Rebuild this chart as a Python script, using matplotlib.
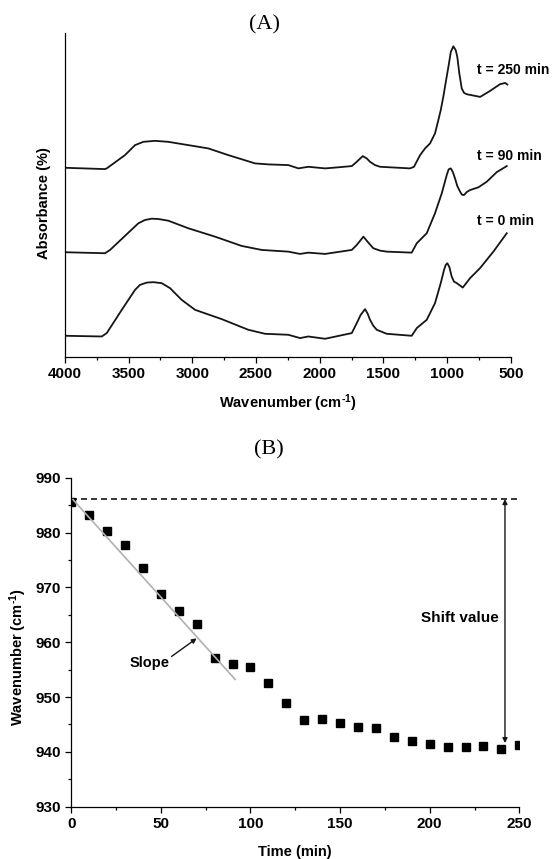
import matplotlib
matplotlib.use("Agg")
import matplotlib.pyplot as plt
from matplotlib.ticker import MultipleLocator

plt.rcParams['font.family'] = ['Liberation Sans', 'DejaVu Sans']
plt.rcParams['mathtext.fontset'] = 'custom'
plt.rcParams['mathtext.rm'] = 'Liberation Sans:bold'
plt.rcParams['mathtext.it'] = 'Liberation Sans:bold'
plt.rcParams['mathtext.bf'] = 'Liberation Sans:bold'

# ---------------- Panel A data (FTIR spectra, arbitrary absorbance units) ----------------
wn_250 = [4000, 3685, 3671, 3528, 3449, 3384, 3292, 3188, 2874, 2717, 2507, 2403, 2246, 2167,
          2089, 1958, 1879, 1748, 1709, 1662, 1631, 1605, 1566, 1526, 1291, 1260, 1212, 1173,
          1134, 1095, 1069, 1050, 1030, 1008, 990, 971, 951, 932, 920, 904, 885, 867, 846,
          767, 741, 663, 585, 545, 527]
abs_250 = [1.893, 1.880, 1.887, 2.020, 2.120, 2.153, 2.163, 2.153, 2.087, 2.020, 1.937, 1.927,
           1.920, 1.887, 1.903, 1.887, 1.895, 1.910, 1.953, 2.010, 1.987, 1.953, 1.920, 1.903,
           1.887, 1.903, 2.020, 2.087, 2.137, 2.237, 2.370, 2.470, 2.603, 2.770, 2.903, 3.053,
           3.110, 3.070, 3.003, 2.837, 2.687, 2.643, 2.630, 2.610, 2.603, 2.663, 2.730, 2.743,
           2.727]

wn_90 = [4000, 3685, 3645, 3423, 3371, 3318, 3266, 3188, 3031, 2821, 2612, 2455, 2246, 2154,
         2089, 1958, 1748, 1709, 1657, 1618, 1579, 1526, 1474, 1278, 1238, 1160, 1095, 1042,
         1003, 988, 971, 956, 938, 920, 898, 883, 867, 846, 820, 755, 689, 610, 532]
abs_90 = [1.047, 1.037, 1.070, 1.337, 1.370, 1.383, 1.380, 1.363, 1.287, 1.203, 1.110, 1.070,
          1.053, 1.030, 1.043, 1.030, 1.070, 1.120, 1.203, 1.143, 1.087, 1.063, 1.053, 1.043,
          1.137, 1.237, 1.437, 1.637, 1.820, 1.877, 1.887, 1.853, 1.787, 1.710, 1.653, 1.623,
          1.620, 1.650, 1.670, 1.697, 1.753, 1.850, 1.910]

wn_0 = [4000, 3710, 3671, 3553, 3449, 3410, 3357, 3305, 3240, 3174, 3148, 3083, 2978, 2769,
        2560, 2429, 2246, 2154, 2089, 1958, 1748, 1709, 1678, 1644, 1623, 1605, 1579, 1552,
        1474, 1278, 1238, 1160, 1095, 1050, 1024, 1011, 998, 982, 964, 946, 924, 877, 820,
        742, 637, 532]
abs_0 = [0.210, 0.203, 0.237, 0.470, 0.670, 0.720, 0.743, 0.747, 0.737, 0.687, 0.653, 0.570,
         0.470, 0.377, 0.270, 0.230, 0.220, 0.187, 0.203, 0.180, 0.237, 0.337, 0.420, 0.477,
         0.430, 0.370, 0.310, 0.270, 0.230, 0.210, 0.287, 0.370, 0.537, 0.737, 0.870, 0.920,
         0.937, 0.897, 0.803, 0.753, 0.737, 0.693, 0.787, 0.887, 1.053, 1.237]

spectra_labels = ["t = 250 min", "t = 90 min", "t = 0 min"]
spectra_label_y = [2.87, 2.01, 1.357]
x_ticks_A = [4000, 3500, 3000, 2500, 2000, 1500, 1000, 500]

# ---------------- Panel B data ----------------
time_min = [0, 10, 20, 30, 40, 50, 60, 70, 80, 90, 100, 110, 120, 130, 140, 150, 160, 170,
            180, 190, 200, 210, 220, 230, 240, 250]
wavenumber = [985.6, 983.2, 980.2, 977.7, 973.5, 968.8, 965.7, 963.3, 957.2, 956.0, 955.4,
              952.6, 948.9, 945.8, 946.0, 945.2, 944.5, 944.3, 942.7, 941.9, 941.4, 940.9,
              940.9, 941.1, 940.6, 941.2]
initial_value = 986.1
slope_t = [1, 91.5]
slope_v = [986.0, 953.2]
shift_t = 242.0
shift_v = [986.1, 941.6]

LC = '#151515'
FS = 10.5
TFS = 11

fig = plt.figure(figsize=(5.55, 8.59), dpi=100)

# ---------------- Panel A ----------------
axA = fig.add_axes([0.1168, 0.5847, 0.8036, 0.3765])
for w, a in [(wn_250, abs_250), (wn_90, abs_90), (wn_0, abs_0)]:
    axA.plot(w, a, color=LC, lw=1.3, solid_joinstyle='round')
axA.set_xlim(4000, 500)
axA.set_ylim(0, 3.24)
axA.set_xticks(x_ticks_A)
axA.xaxis.set_minor_locator(MultipleLocator(250))
axA.set_yticks([])
for s in ['top', 'right']:
    axA.spines[s].set_visible(False)
for s in ['left', 'bottom']:
    axA.spines[s].set_linewidth(0.9)
axA.tick_params(axis='x', which='major', direction='out', length=4.5, width=0.9,
                labelsize=TFS, pad=3)
axA.tick_params(axis='x', which='minor', direction='out', length=2.5, width=0.9)
for lab in axA.get_xticklabels():
    lab.set_fontweight('bold')
axA.set_xlabel(r'Wavenumber (cm$^{\text{-1}}$)', fontsize=FS, fontweight='bold')
axA.xaxis.set_label_coords(0.5, -0.143)
axA.xaxis.label.set_va('center')
axA.set_ylabel('Absorbance (%)', fontsize=FS, fontweight='bold')
axA.yaxis.set_label_coords(-0.047, 0.475)
axA.yaxis.label.set_va('center')
for txt, yy in zip(spectra_labels, spectra_label_y):
    axA.text(767, yy, txt, fontsize=10, fontweight='bold', ha='left', va='center',
             clip_on=False)
fig.text(0.4757, 0.9709, '(A)', ha='center', va='center', fontsize=16,
         family='Liberation Serif')

# ---------------- Panel B ----------------
axB = fig.add_axes([0.1283, 0.0609, 0.8074, 0.3830])
axB.plot(time_min, wavenumber, 's', color='black', ms=5.2, mec='black', zorder=3)
axB.plot([0, 250], [initial_value, initial_value], color=LC, lw=1.2,
         ls=(0, (3.6, 2.4)), zorder=2, clip_on=False)
axB.plot(slope_t, slope_v, color='#b0b0b0', lw=1.2, zorder=4)
axB.annotate('', xy=(shift_t, shift_v[0]), xytext=(shift_t, shift_v[1]),
             arrowprops=dict(arrowstyle='<|-|>', color=LC, lw=1.0,
                             mutation_scale=7, shrinkA=0, shrinkB=0))
axB.text(43.5, 956.2, 'Slope', ha='center', va='center', fontsize=FS, fontweight='bold')
axB.annotate('', xy=(70.0, 960.7), xytext=(56.0, 957.4),
             arrowprops=dict(arrowstyle='-|>', color=LC, lw=1.0, mutation_scale=7,
                             shrinkA=0, shrinkB=0))
axB.text(238.3, 964.4, 'Shift value', fontsize=TFS, fontweight='bold', ha='right',
         va='center')
axB.set_xlim(0, 250)
axB.set_ylim(930, 990)
axB.xaxis.set_major_locator(MultipleLocator(50))
axB.xaxis.set_minor_locator(MultipleLocator(25))
axB.yaxis.set_major_locator(MultipleLocator(10))
axB.yaxis.set_minor_locator(MultipleLocator(5))
for s in ['top', 'right']:
    axB.spines[s].set_visible(False)
for s in ['left', 'bottom']:
    axB.spines[s].set_linewidth(0.9)
axB.tick_params(which='major', direction='out', length=4.5, width=0.9, labelsize=TFS, pad=3)
axB.tick_params(which='minor', direction='out', length=2.5, width=0.9)
for lab in axB.get_xticklabels() + axB.get_yticklabels():
    lab.set_fontweight('bold')
axB.set_xlabel('Time (min)', fontsize=FS, fontweight='bold')
axB.xaxis.set_label_coords(0.5, -0.137)
axB.xaxis.label.set_va('center')
axB.set_ylabel(r'Wavenumber (cm$^{\text{-1}}$)', fontsize=FS, fontweight='bold')
axB.yaxis.set_label_coords(-0.119, 0.456)
axB.yaxis.label.set_va('center')
fig.text(0.4847, 0.4761, '(B)', ha='center', va='center', fontsize=16,
         family='Liberation Serif')

fig.savefig('out.png', dpi=100)
